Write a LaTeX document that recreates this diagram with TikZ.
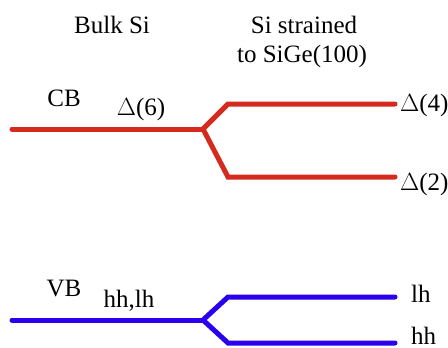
\documentclass[tikz,border=0pt]{standalone}
\usepackage{fontspec}
\setmainfont{Liberation Serif}
\definecolor{cbred}{HTML}{D42B1E}
\definecolor{vbblue}{HTML}{2A00EE}
\begin{document}
\begin{tikzpicture}[x=1pt,y=-1pt,
  lbl/.style={anchor=base,inner sep=0pt,font=\fontsize{25}{29}\selectfont},
  band/.style={line width=5pt,line cap=round,line join=miter}]
\useasboundingbox (0,0) rectangle (448,348);
% titles
\node[lbl] (bulk) at (112,33) {Bulk Si};
\node[lbl] (str1) at (304,33) {Si strained};
\node[lbl] (str2) at (302,63) {to SiGe(100)};
% CB
\node[lbl] (cb) at (64,106) {CB};
\node[lbl] (d6) at (141,115) {$\Delta$(6)};
\node[lbl,anchor=base west] (d4) at (400,111) {$\Delta$(4)};
\node[lbl,anchor=base west] (d2) at (400,190) {$\Delta$(2)};
\coordinate (c0) at (12,129);
\coordinate (cs) at (203,129);
\coordinate (cu) at (228,104);
\coordinate (cue) at (395,104);
\coordinate (cl) at (228,177);
\coordinate (cle) at (395,177);
\draw[band,cbred] (c0) -- (cs);
\draw[band,cbred] (cs) -- (cu) -- (cue);
\draw[band,cbred] (cs) -- (cl) -- (cle);
% VB
\node[lbl] (vb) at (64,296) {VB};
\node[lbl] (hhlh) at (129,307) {hh,lh};
\node[lbl,anchor=base west] (lh) at (411,302) {lh};
\node[lbl,anchor=base west] (hh) at (411,344) {hh};
\coordinate (v0) at (12,320);
\coordinate (vs) at (203,320);
\coordinate (vu) at (228,297);
\coordinate (vue) at (395,297);
\coordinate (vl) at (228,343);
\coordinate (vle) at (395,343);
\draw[band,vbblue] (v0) -- (vs);
\draw[band,vbblue] (vs) -- (vu) -- (vue);
\draw[band,vbblue] (vs) -- (vl) -- (vle);
\end{tikzpicture}
\end{document}
